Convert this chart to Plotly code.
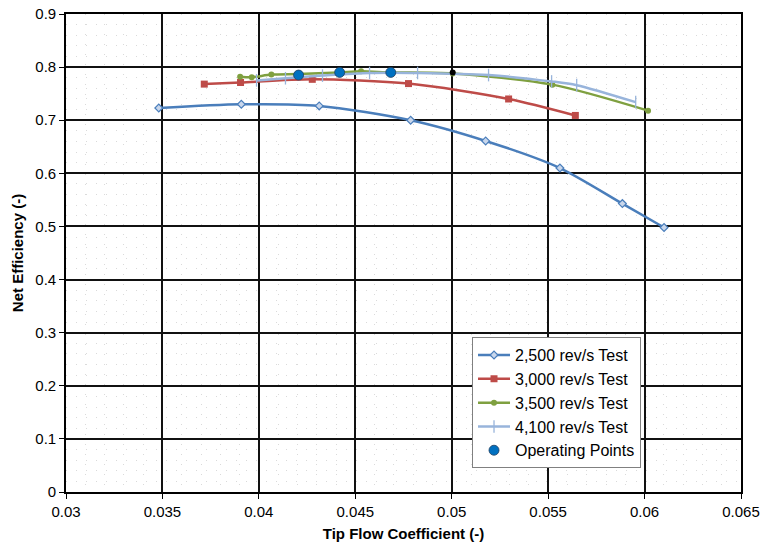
import plotly.graph_objects as go

# ---- data ----
x_2500 = [0.03481, 0.03909, 0.04313, 0.04787, 0.05176, 0.05561, 0.05885, 0.06101]
y_2500 = [0.723, 0.730, 0.727, 0.700, 0.661, 0.610, 0.543, 0.498]

x_3000 = [0.03717, 0.03905, 0.04277, 0.04776, 0.05295, 0.05641]
y_3000 = [0.768, 0.771, 0.777, 0.769, 0.740, 0.709]

x_3500 = [0.03903, 0.03963, 0.04065, 0.04206, 0.04419, 0.04530, 0.04684, 0.05005, 0.05522, 0.06018]
y_3500 = [0.782, 0.781, 0.786, 0.787, 0.790, 0.792, 0.790, 0.788, 0.767, 0.718]

x_4100 = [0.03988, 0.04138, 0.04330, 0.04574, 0.04823, 0.05191, 0.05518, 0.05648, 0.05954]
y_4100 = [0.775, 0.779, 0.784, 0.789, 0.789, 0.785, 0.773, 0.766, 0.734]

x_op = [0.04206, 0.04419, 0.04684]
y_op = [0.785, 0.790, 0.790]

x_extra = [0.05005]
y_extra = [0.790]

x_ticks = [0.03, 0.035, 0.04, 0.045, 0.05, 0.055, 0.06, 0.065]
y_ticks = [0, 0.1, 0.2, 0.3, 0.4, 0.5, 0.6, 0.7, 0.8, 0.9]

FONT = "Liberation Sans, Arial, sans-serif"

fig = go.Figure()
fig.add_trace(go.Scatter(x=x_2500, y=y_2500, mode="lines+markers", name="2,500 rev/s Test",
                         line=dict(color="#4A7EBB", width=2.5, shape="spline", smoothing=0.8),
                         marker=dict(symbol="diamond", size=6, color="#C9D7EC",
                                     line=dict(color="#4A7EBB", width=1.2))))
fig.add_trace(go.Scatter(x=x_3000, y=y_3000, mode="lines+markers", name="3,000 rev/s Test",
                         line=dict(color="#BE4B48", width=2.5, shape="spline", smoothing=0.8),
                         marker=dict(symbol="square", size=7, color="#BE4B48")))
fig.add_trace(go.Scatter(x=x_3500, y=y_3500, mode="lines+markers", name="3,500 rev/s Test",
                         line=dict(color="#7FA040", width=2.5, shape="spline", smoothing=0.8),
                         marker=dict(symbol="circle", size=6, color="#7FA040")))
fig.add_trace(go.Scatter(x=x_4100, y=y_4100, mode="lines+markers", name="4,100 rev/s Test",
                         line=dict(color="#98B4DB", width=2.5, shape="spline", smoothing=0.8),
                         marker=dict(symbol="line-ns", size=9, color="#98B4DB",
                                     line=dict(color="#98B4DB", width=1.3))))
fig.add_trace(go.Scatter(x=x_op, y=y_op, mode="markers", name="Operating Points",
                         marker=dict(symbol="circle", size=10, color="#0070C0",
                                     line=dict(color="#1F3F60", width=0.8))))
fig.add_trace(go.Scatter(x=x_extra, y=y_extra, mode="markers", showlegend=False,
                         marker=dict(symbol="circle", size=6, color="#000000")))

fig.update_layout(
    width=762, height=546,
    margin=dict(l=66, r=21, t=14, b=54),
    paper_bgcolor="white", plot_bgcolor="white",
    font=dict(family=FONT, size=15, color="black"),
    showlegend=True,
    legend=dict(x=0.6015, y=0.324, xanchor="left", yanchor="top",
                bgcolor="white", bordercolor="#808080", borderwidth=1,
                font=dict(family=FONT, size=16), tracegroupgap=0, itemwidth=32),
    xaxis=dict(range=[0.03, 0.065], tickvals=x_ticks, automargin=False,
               ticktext=[f"{v:g}" for v in x_ticks],
               showgrid=True, gridcolor="#111111", gridwidth=1.6,
               showline=True, linecolor="black", linewidth=1.6, mirror=True,
               ticks="outside", ticklen=5, tickcolor="black",
               zeroline=False,
               minor=dict(dtick=0.001, showgrid=True, gridcolor="#DADADA",
                          griddash="1px,9px", gridwidth=1, ticks=""),
               title=dict(text="<b>Tip Flow Coefficient (-)</b>", font=dict(size=15), standoff=10)),
    yaxis=dict(range=[0, 0.9], tickvals=y_ticks, automargin=False,
               ticktext=[f"{v:g}" for v in y_ticks],
               showgrid=True, gridcolor="#111111", gridwidth=1.6,
               showline=True, linecolor="black", linewidth=1.6, mirror=True,
               ticks="outside", ticklen=5, tickcolor="black",
               zeroline=False,
               minor=dict(dtick=0.02, showgrid=True, gridcolor="#DADADA",
                          griddash="1px,9px", gridwidth=1, ticks=""),
               title=dict(text="<b>Net Efficiency (-)</b>", font=dict(size=15), standoff=8)),
)

fig.write_html("out.html")
